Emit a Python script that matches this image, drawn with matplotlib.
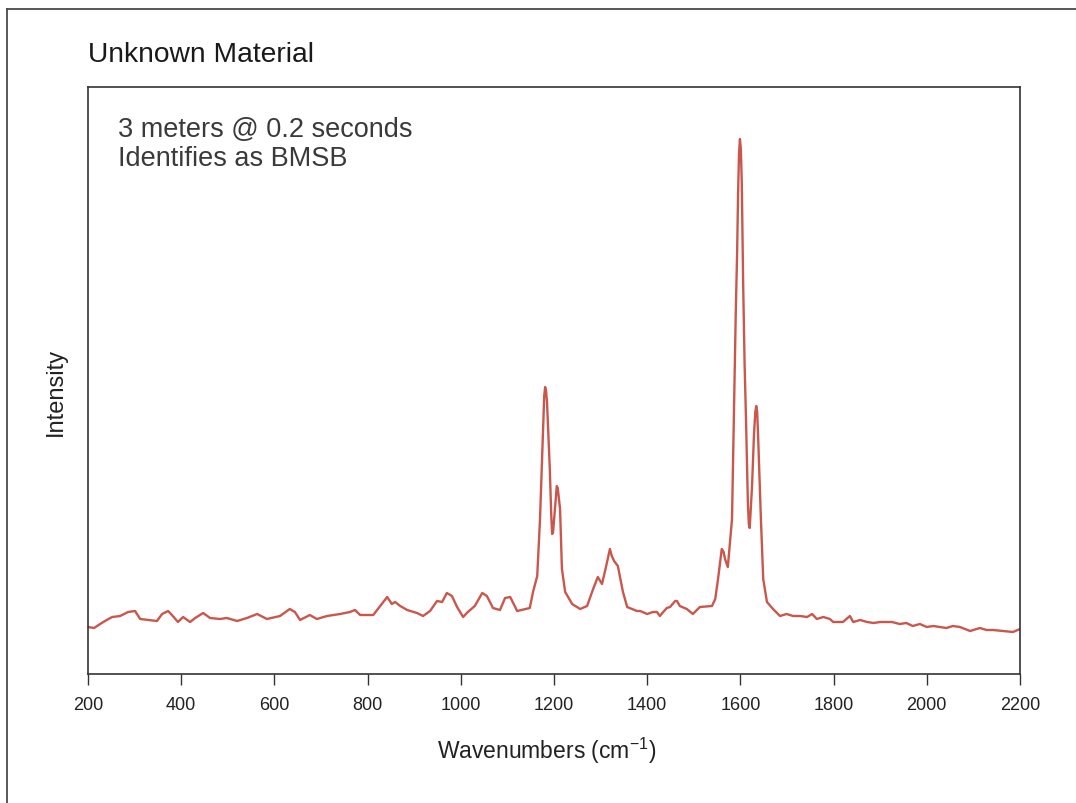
"""Raman spectrum of an unknown material, redrawn with matplotlib."""

import matplotlib

matplotlib.use("Agg")
import matplotlib.pyplot as plt  # noqa: E402
from matplotlib.lines import Line2D  # noqa: E402

# Wavenumbers (cm-1) and relative intensity.
WAVENUMBERS = [
    200, 213, 226, 240, 252, 269, 286, 301, 312, 330, 348, 359, 372, 382, 393,
    404, 419, 430, 447, 462, 483, 498, 520, 541, 563, 584, 612, 633, 644, 655,
    676, 691, 713, 741, 762, 773, 784, 812, 822, 842, 852, 859, 870, 885, 906,
    919, 934, 949, 960, 970, 981, 992, 1005, 1015, 1030, 1046, 1056, 1069,
    1084, 1095, 1106, 1121, 1148, 1155, 1164, 1170, 1176, 1179, 1181, 1183,
    1185, 1191, 1194, 1196, 1198, 1202, 1206, 1208, 1213, 1217, 1224, 1239,
    1256, 1271, 1284, 1294, 1303, 1312, 1320, 1324, 1329, 1337, 1348, 1357,
    1378, 1385, 1400, 1412, 1421, 1427, 1442, 1449, 1460, 1464, 1470, 1485,
    1498, 1513, 1539, 1546, 1552, 1560, 1564, 1567, 1573, 1582, 1586, 1590,
    1593, 1595, 1597, 1599, 1601, 1603, 1606, 1609, 1612, 1616, 1618, 1620,
    1625, 1629, 1632, 1634, 1636, 1638, 1644, 1649, 1657, 1670, 1685, 1699,
    1713, 1728, 1743, 1754, 1764, 1778, 1792, 1799, 1820, 1835, 1842, 1857,
    1872, 1886, 1900, 1925, 1942, 1956, 1970, 1985, 2000, 2014, 2028, 2042,
    2056, 2071, 2093, 2114, 2128, 2142, 2163, 2185, 2200,
]
INTENSITY = [
    47, 46, 50, 54, 57, 58, 62, 63, 55, 54, 53, 60, 63, 58, 52,
    57, 52, 56, 61, 56, 55, 56, 53, 56, 60, 55, 58, 65, 62, 54,
    59, 55, 58, 60, 62, 64, 59, 59, 65, 77, 70, 72, 68, 64, 61,
    58, 63, 73, 72, 81, 78, 67, 57, 62, 68, 81, 78, 66,
    64, 76, 77, 63, 66, 82, 98, 155, 238, 278, 287, 283,
    272, 205, 160, 140, 142, 165, 188, 186, 165, 105, 82, 70,
    65, 68, 85, 97, 90, 108, 125, 118, 113, 108, 82, 67,
    63, 63, 60, 62, 62, 58, 66, 67, 73, 73, 68, 65,
    60, 67, 68, 75, 95, 125, 122, 115, 107, 155, 255, 360,
    422, 480, 520, 535, 525, 490, 388, 310, 255, 172, 150, 146,
    188, 238, 262, 268, 262, 238, 155, 95, 72, 65, 58, 60,
    58, 58, 57, 60, 55, 57, 55, 52, 52, 58, 52, 54,
    52, 51, 52, 52, 50, 51, 48, 50, 47, 48, 47, 46,
    48, 47, 43, 46, 44, 44, 43, 42, 45,
]
X_TICKS = [200, 400, 600, 800, 1000, 1200, 1400, 1600, 1800, 2000, 2200]

TITLE = "Unknown Material"
NOTE = "3 meters @ 0.2 seconds\nIdentifies as BMSB"
LINE_COLOR = "#c9574c"
FRAME_COLOR = "#4a4a4a"

plt.rcParams["font.family"] = ["Liberation Sans", "DejaVu Sans"]

fig = plt.figure(figsize=(10.76, 8.04), dpi=100)
ax = fig.add_axes([88 / 1076, 129 / 804, 932 / 1076, 587 / 804])

ax.plot(WAVENUMBERS, INTENSITY, color=LINE_COLOR, linewidth=1.7,
        solid_joinstyle="round")
ax.set_xlim(200, 2200)
ax.set_ylim(0, 587)
ax.set_xticks(X_TICKS)
ax.set_yticks([])
ax.tick_params(axis="x", direction="out", length=8, width=1, colors="#333333",
               labelsize=13, pad=8, labelcolor="#222222")
for spine in ax.spines.values():
    spine.set_color("#333333")
    spine.set_linewidth(1.2)

ax.set_xlabel("Wavenumbers (cm$^{\\mathregular{-1}}$)", fontsize=16.5,
              color="#222222")
ax.xaxis.set_label_coords(0.4925, -0.103)
ax.set_ylabel("Intensity", fontsize=17, color="#222222")
ax.yaxis.set_label_coords(-0.023, 0.482)

ax.text(0.032, 0.950, NOTE, transform=ax.transAxes, ha="left", va="top",
        fontsize=19.5, color="#3a3a3a", linespacing=1.15)
fig.text(88 / 1076, 1 - 55 / 804, TITLE, ha="left", va="center",
         fontsize=20.3, color="#1a1a1a")

# Outer card frame: only the top and left edges fall inside the picture.
fig.add_artist(Line2D([7 / 1076, 1.0], [1 - 10 / 804, 1 - 10 / 804],
                      transform=fig.transFigure, color=FRAME_COLOR, linewidth=1.3))
fig.add_artist(Line2D([7 / 1076, 7 / 1076], [0.0, 1 - 10 / 804],
                      transform=fig.transFigure, color=FRAME_COLOR, linewidth=1.3))

fig.savefig("out.png", dpi=100)
